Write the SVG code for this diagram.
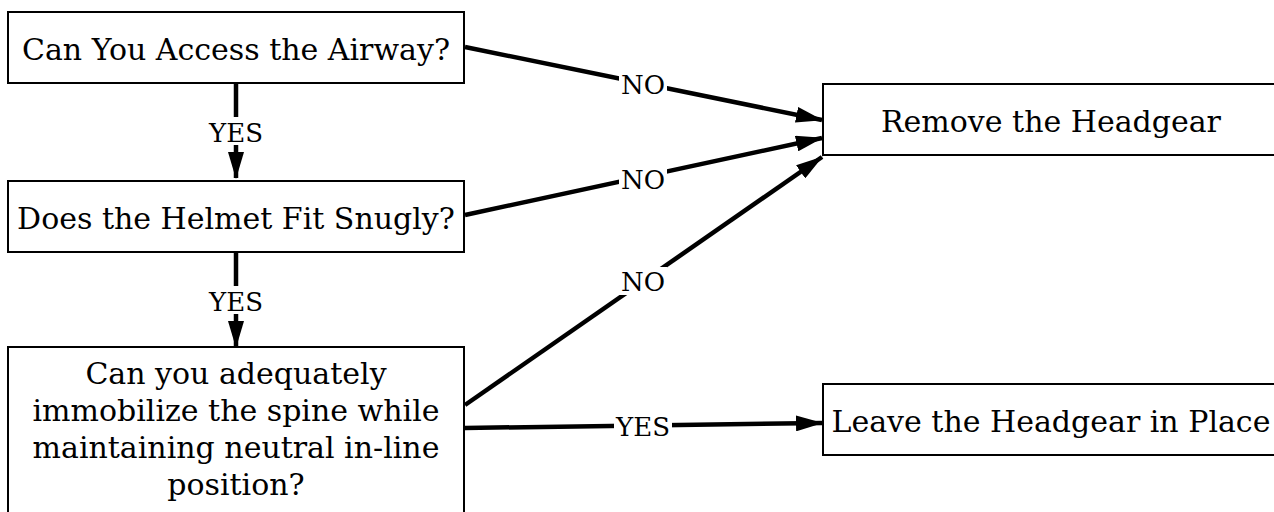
<svg xmlns="http://www.w3.org/2000/svg" width="1274" height="512" viewBox="0 0 1274 512">
<defs>
<style>
.box{fill:#fff;stroke:#000;stroke-width:2}
.t{font-family:"DejaVu Serif","Liberation Serif",serif;font-size:30px;fill:#000;text-anchor:middle}
.l{font-family:"DejaVu Serif","Liberation Serif",serif;font-size:26px;fill:#000;text-anchor:middle}
.e{stroke:#000;stroke-width:4.5;fill:none}
.bg{fill:#fff}
</style>
<marker id="ah" viewBox="0 0 27 16" refX="26" refY="8" markerWidth="27" markerHeight="16" orient="auto" markerUnits="userSpaceOnUse">
<path d="M0,0 L27,8 L0,16 z" fill="#000"/>
</marker>
</defs>
<rect width="1274" height="512" fill="#fff"/>
<g id="connectors">
<path class="e" d="M465,47 L822,120" marker-end="url(#ah)"/>
<path class="e" d="M465,215 L822,138" marker-end="url(#ah)"/>
<path class="e" d="M465,405 L822,157" marker-end="url(#ah)"/>
<path class="e" d="M465,428 L822,423" marker-end="url(#ah)"/>
<path class="e" d="M236,84 L236,178" marker-end="url(#ah)"/>
<path class="e" d="M236,253 L236,347" marker-end="url(#ah)"/>
<rect class="bg" x="619" y="70" width="48" height="28"/>
<text class="l" x="643" y="94">NO</text>
<rect class="bg" x="619" y="165" width="48" height="28"/>
<text class="l" x="643" y="189">NO</text>
<rect class="bg" x="619" y="267" width="48" height="28"/>
<text class="l" x="643" y="291">NO</text>
<rect class="bg" x="614" y="412" width="58" height="28"/>
<text class="l" x="643" y="436">YES</text>
<rect class="bg" x="207" y="117" width="58" height="28"/>
<text class="l" x="236" y="142">YES</text>
<rect class="bg" x="207" y="286" width="58" height="28"/>
<text class="l" x="236" y="311">YES</text>
</g>
<g id="n1">
<rect class="box" x="8" y="12" width="456" height="71"/>
<text class="t" x="236" y="60">Can You Access the Airway?</text>
</g>
<g id="n2">
<rect class="box" x="8" y="181" width="456" height="71"/>
<text class="t" x="236" y="229">Does the Helmet Fit Snugly?</text>
</g>
<g id="n3">
<rect class="box" x="8" y="347" width="456" height="180"/>
<text class="t" x="236" y="384">Can you adequately</text>
<text class="t" x="236" y="421">immobilize the spine while</text>
<text class="t" x="236" y="458">maintaining neutral in-line</text>
<text class="t" x="236" y="495">position?</text>
</g>
<g id="n4">
<rect class="box" x="823" y="84" width="456" height="71"/>
<text class="t" x="1051" y="132">Remove the Headgear</text>
</g>
<g id="n5">
<rect class="box" x="823" y="384" width="456" height="71"/>
<text class="t" x="1051" y="432">Leave the Headgear in Place</text>
</g>
</svg>
